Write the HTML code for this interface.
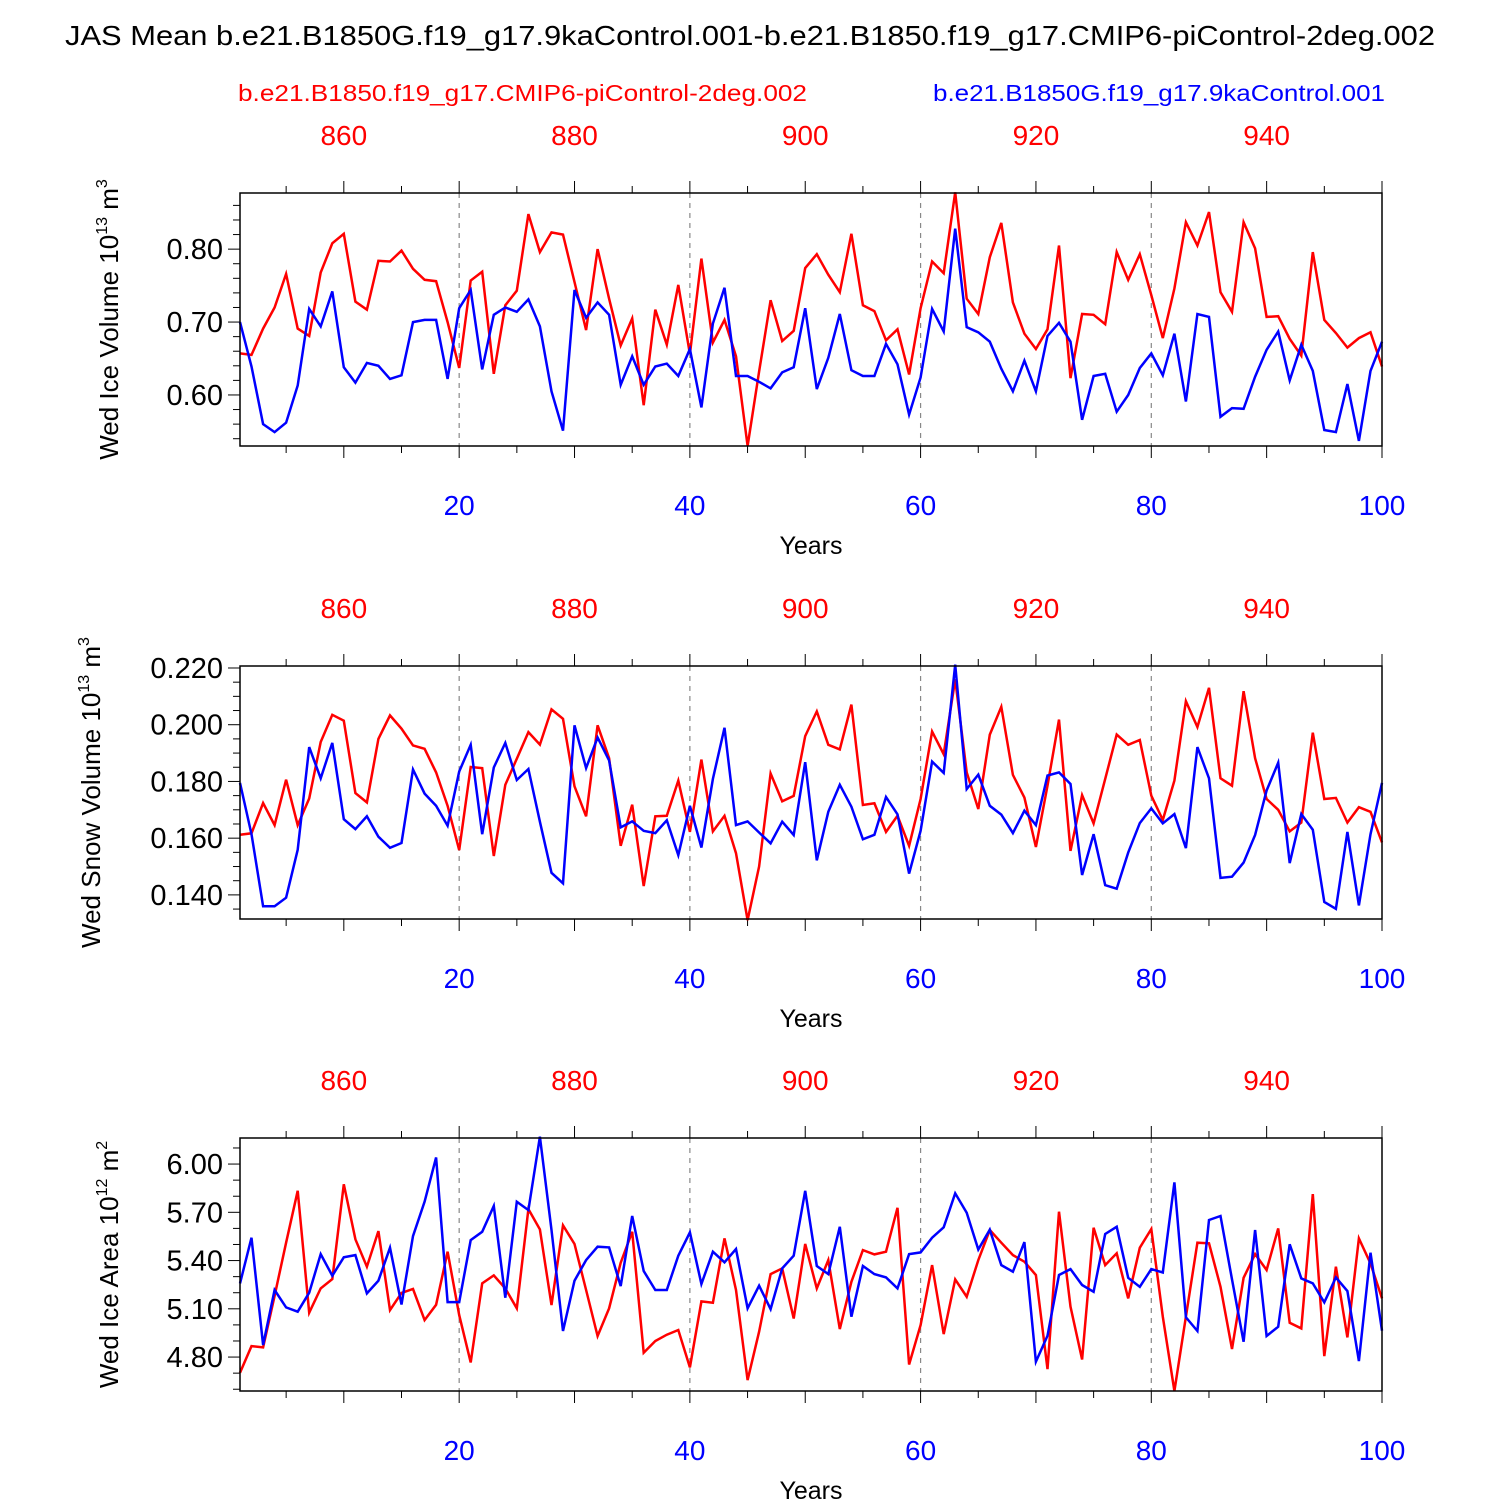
<!DOCTYPE html>
<html><head><meta charset="utf-8"><style>
html,body{margin:0;padding:0;background:#fff;}
svg{display:block;font-family:"Liberation Sans",Arial,sans-serif;}
</style></head><body>
<svg id="chart" width="1500" height="1500" viewBox="0 0 1500 1500" xmlns="http://www.w3.org/2000/svg">
<rect width="1500" height="1500" fill="#fff"/>
<text x="65" y="45" font-size="28" textLength="1370" lengthAdjust="spacingAndGlyphs">JAS Mean b.e21.B1850G.f19_g17.9kaControl.001-b.e21.B1850.f19_g17.CMIP6-piControl-2deg.002</text>
<text x="238" y="101" font-size="23" fill="#ff0000" textLength="569" lengthAdjust="spacingAndGlyphs">b.e21.B1850.f19_g17.CMIP6-piControl-2deg.002</text>
<text x="933" y="101" font-size="23" fill="#0000ff" textLength="452" lengthAdjust="spacingAndGlyphs">b.e21.B1850G.f19_g17.9kaControl.001</text>
<g id="panels"></g>
</svg>
<script>
const years = Array.from({length:100},(_,i)=>i+1);
const iceVolRed = [0.657,0.655,0.691,0.720,0.766,0.691,0.681,0.768,0.808,0.821,0.728,0.717,0.784,0.783,0.798,0.773,0.758,0.756,0.700,0.637,0.757,0.769,0.629,0.723,0.743,0.848,0.796,0.823,0.820,0.755,0.689,0.800,0.732,0.668,0.705,0.586,0.717,0.669,0.751,0.656,0.787,0.672,0.703,0.653,0.530,0.632,0.730,0.674,0.688,0.774,0.793,0.765,0.741,0.821,0.723,0.715,0.675,0.690,0.628,0.719,0.783,0.767,0.878,0.732,0.711,0.789,0.836,0.727,0.684,0.663,0.690,0.805,0.623,0.711,0.710,0.697,0.796,0.758,0.793,0.737,0.678,0.746,0.837,0.805,0.851,0.741,0.714,0.837,0.801,0.707,0.708,0.677,0.654,0.796,0.703,0.685,0.665,0.678,0.686,0.639];
const iceVolBlue = [0.700,0.639,0.560,0.549,0.562,0.613,0.718,0.694,0.742,0.638,0.617,0.644,0.640,0.622,0.627,0.700,0.703,0.703,0.622,0.719,0.744,0.635,0.710,0.720,0.714,0.731,0.694,0.605,0.551,0.744,0.706,0.727,0.710,0.614,0.653,0.614,0.639,0.643,0.626,0.663,0.583,0.698,0.747,0.626,0.626,0.618,0.609,0.631,0.638,0.719,0.608,0.651,0.711,0.634,0.626,0.626,0.670,0.642,0.573,0.624,0.718,0.687,0.828,0.693,0.686,0.673,0.636,0.605,0.647,0.605,0.681,0.699,0.673,0.566,0.626,0.629,0.577,0.600,0.637,0.657,0.627,0.684,0.591,0.711,0.707,0.570,0.582,0.581,0.625,0.662,0.687,0.620,0.669,0.633,0.552,0.549,0.615,0.537,0.633,0.673];
const snowRed = [0.1612,0.1617,0.1724,0.1646,0.1806,0.1646,0.174,0.1939,0.2035,0.2014,0.1759,0.1726,0.195,0.2033,0.1986,0.1927,0.1915,0.1832,0.1714,0.1558,0.1851,0.1847,0.1537,0.1788,0.188,0.1974,0.193,0.2054,0.2021,0.1783,0.1677,0.1998,0.1882,0.1573,0.1718,0.1431,0.1677,0.1679,0.1803,0.1622,0.1877,0.1624,0.1679,0.1547,0.1311,0.150,0.1828,0.173,0.1749,0.196,0.2047,0.1929,0.1913,0.2071,0.1717,0.1723,0.1622,0.1679,0.1573,0.1738,0.1976,0.1896,0.216,0.1832,0.1703,0.1965,0.2063,0.1823,0.1743,0.1569,0.1785,0.2018,0.1555,0.1752,0.1652,0.1809,0.1965,0.1929,0.1946,0.175,0.1664,0.1803,0.2083,0.1992,0.213,0.1811,0.1785,0.2118,0.1882,0.1738,0.17,0.1624,0.1655,0.1972,0.1738,0.1742,0.1655,0.1709,0.1693,0.1585];
const snowBlue = [0.1795,0.1614,0.136,0.136,0.139,0.1559,0.1921,0.1811,0.1936,0.1667,0.1632,0.1677,0.1605,0.1566,0.1583,0.1842,0.1757,0.1714,0.1644,0.1835,0.1929,0.1614,0.1849,0.1936,0.1805,0.1844,0.1658,0.1478,0.1441,0.1998,0.1847,0.1955,0.1874,0.1638,0.1659,0.1626,0.1618,0.1663,0.154,0.1714,0.1567,0.1809,0.1989,0.1646,0.1659,0.162,0.1582,0.1658,0.1611,0.1868,0.1522,0.1693,0.1788,0.1711,0.1596,0.1612,0.1745,0.1684,0.1475,0.1626,0.187,0.183,0.2212,0.1773,0.1824,0.1714,0.1683,0.1618,0.1697,0.1646,0.1821,0.1832,0.1791,0.147,0.1614,0.1434,0.1422,0.1549,0.1653,0.1705,0.1652,0.1685,0.1565,0.1921,0.1811,0.146,0.1464,0.1514,0.1611,0.1768,0.1866,0.1512,0.1685,0.163,0.1375,0.1351,0.1622,0.1363,0.1614,0.1795];
const areaRed = [4.703,4.868,4.860,5.181,5.511,5.834,5.076,5.227,5.285,5.874,5.532,5.362,5.583,5.092,5.199,5.224,5.030,5.125,5.455,5.061,4.767,5.258,5.308,5.227,5.103,5.720,5.594,5.123,5.619,5.503,5.217,4.931,5.103,5.387,5.579,4.827,4.900,4.939,4.968,4.736,5.146,5.138,5.538,5.217,4.657,4.958,5.316,5.351,5.040,5.503,5.227,5.403,4.974,5.268,5.465,5.438,5.455,5.728,4.754,4.999,5.372,4.943,5.283,5.175,5.403,5.590,5.511,5.434,5.393,5.310,4.725,5.704,5.113,4.785,5.604,5.372,5.445,5.165,5.480,5.596,5.051,4.589,5.051,5.511,5.507,5.237,4.850,5.293,5.440,5.341,5.600,5.013,4.978,5.813,4.806,5.362,4.922,5.538,5.382,5.165];
const areaBlue = [5.258,5.542,4.875,5.217,5.109,5.082,5.200,5.440,5.306,5.420,5.434,5.196,5.275,5.480,5.127,5.552,5.766,6.041,5.142,5.142,5.527,5.579,5.739,5.169,5.766,5.714,6.170,5.590,4.962,5.275,5.403,5.486,5.482,5.241,5.677,5.335,5.217,5.217,5.430,5.575,5.254,5.455,5.389,5.472,5.103,5.244,5.098,5.351,5.430,5.834,5.366,5.316,5.610,5.051,5.366,5.316,5.295,5.227,5.440,5.451,5.542,5.607,5.818,5.697,5.469,5.592,5.372,5.331,5.515,4.771,4.933,5.310,5.347,5.248,5.206,5.565,5.610,5.293,5.237,5.347,5.326,5.886,5.047,4.962,5.652,5.677,5.283,4.895,5.590,4.931,4.989,5.501,5.289,5.258,5.140,5.295,5.210,4.775,5.449,4.964];
const bottomTicks = [20,40,60,80,100];
const topTickLabels = ["860","880","900","920","940"];
const topTickYears = [10,30,50,70,90];
const iceVolTicks = [0.60,0.70,0.80];
const snowTicks = [0.140,0.160,0.180,0.200,0.220];
const areaTicks = [4.80,5.10,5.40,5.70,6.00];

const NS="http://www.w3.org/2000/svg";
const root=document.getElementById('panels');
function mk(tag,attrs,parent){const e=document.createElementNS(NS,tag);for(const k in attrs)e.setAttribute(k,attrs[k]);(parent||root).appendChild(e);return e;}
const X0=240,X1=1382;
function xs(yr){return X0+(yr-1)*(X1-X0)/99;}

const panels=[
 {top:193,ymin:0.530,ymax:0.877,ticks:iceVolTicks,dec:2,minor:0.02,red:iceVolRed,blue:iceVolBlue,title:"Wed Ice Volume 10",sup:"13",unit:" m",usup:"3",tx:110,name:"ice-volume"},
 {top:666,ymin:0.1315,ymax:0.2207,ticks:snowTicks,dec:3,minor:0.005,red:snowRed,blue:snowBlue,title:"Wed Snow Volume 10",sup:"13",unit:" m",usup:"3",tx:92,name:"snow-volume"},
 {top:1138,ymin:4.589,ymax:6.162,ticks:areaTicks,dec:2,minor:0.1,red:areaRed,blue:areaBlue,title:"Wed Ice Area 10",sup:"12",unit:" m",usup:"2",tx:110,name:"ice-area"}
];
const H=253;
panels.forEach(p=>{
 const g=mk('g',{});
 
 
 const ys=v=>p.top+H-(v-p.ymin)/(p.ymax-p.ymin)*H;
 bottomTicks.slice(0,4).forEach(t=>{const l=mk('line',{x1:xs(t),x2:xs(t),y1:p.top,y2:p.top+H,stroke:'#888','stroke-width':1.2,'stroke-dasharray':'5,5'},g);
  
  });
 for(let yr=5;yr<=100;yr+=5){const x=xs(yr);const len=(yr%10===0)?12:7;
  mk('line',{x1:x,x2:x,y1:p.top+H,y2:p.top+H+len,stroke:'#000','stroke-width':1},g);
  mk('line',{x1:x,x2:x,y1:p.top,y2:p.top-len,stroke:'#000','stroke-width':1},g);}
 const start=Math.ceil(p.ymin/p.minor-1e-6);
 for(let i=start;i*p.minor<=p.ymax+1e-9;i++){const v=i*p.minor;const y=ys(v);
  const isMaj=p.ticks.some(t=>Math.abs(t-v)<1e-6);
  mk('line',{x1:X0,x2:X0-(isMaj?12:7),y1:y,y2:y,stroke:'#000','stroke-width':1},g);}
 p.ticks.forEach(t=>{const tx=mk('text',{x:223,y:ys(t)+10,'font-size':29,'text-anchor':'end'},g);tx.textContent=t.toFixed(p.dec);
  
  });
 [[p.red,'#ff0000','red'],[p.blue,'#0000ff','blue']].forEach(([arr,c,n])=>{
  const pts=arr.map((v,i)=>xs(years[i]).toFixed(1)+','+ys(v).toFixed(1)).join(' ');
  const pl=mk('polyline',{points:pts,fill:'none',stroke:c,'stroke-width':2.5,'stroke-linejoin':'miter'},g);
  
  
 });
 const box=mk('rect',{x:X0,y:p.top,width:X1-X0,height:H,fill:'none',stroke:'#000','stroke-width':1.5},g);
 
 
 bottomTicks.forEach(t=>{const tx=mk('text',{x:xs(t),y:p.top+H+69,'font-size':28,'text-anchor':'middle',fill:'#0000ff'},g);tx.textContent=t;
  
  });
 topTickYears.forEach((t,i)=>{const tx=mk('text',{x:xs(t),y:p.top-48,'font-size':28,'text-anchor':'middle',fill:'#ff0000'},g);tx.textContent=topTickLabels[i];
  
  });
 const xt=mk('text',{x:811,y:p.top+H+108,'font-size':25,'text-anchor':'middle'},g);xt.textContent='Years';
 
 
 const cy=p.top+H/2;
 const yt=mk('text',{x:0,y:0,'font-size':26,'text-anchor':'middle',transform:`translate(${p.tx+8},${cy}) rotate(-90)`},g);
 
 
 const s1=mk('tspan',{},yt);s1.textContent=p.title;
 const s2=mk('tspan',{dy:-11,'font-size':16},yt);s2.textContent=p.sup;
 const s3=mk('tspan',{dy:11},yt);s3.textContent=p.unit;
 const s4=mk('tspan',{dy:-11,'font-size':16},yt);s4.textContent=p.usup;
});
</script>
</body></html>
